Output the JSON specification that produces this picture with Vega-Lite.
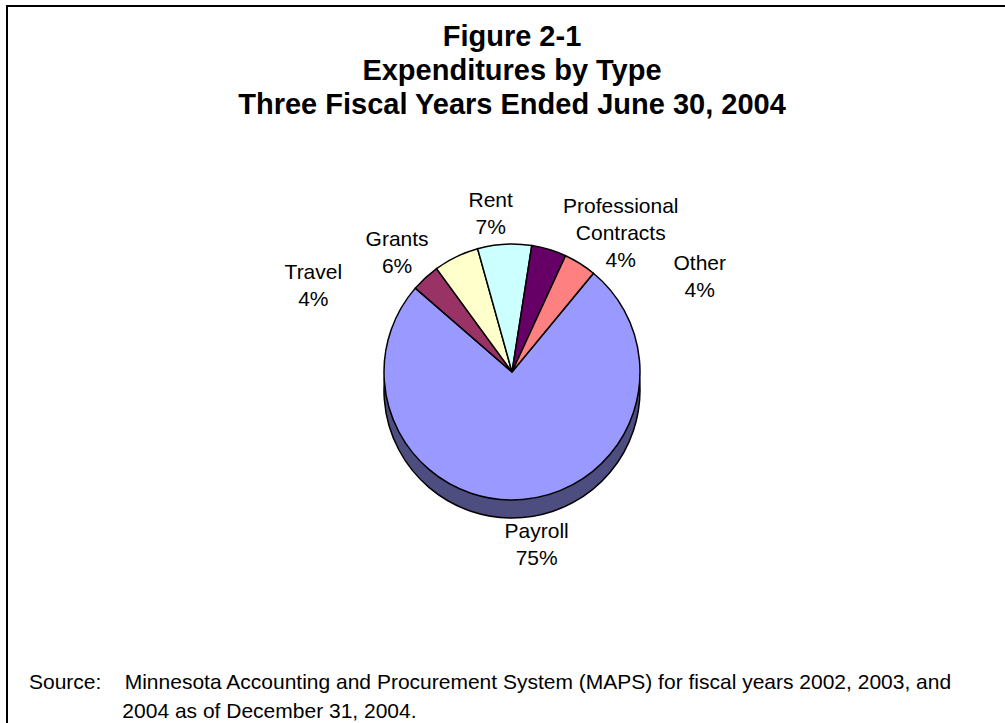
{
  "$schema": "https://vega.github.io/schema/vega-lite/v6.json",
  "background": "white",
  "padding": {"left": 6, "top": 5, "right": -13, "bottom": -16},
  "config": {
    "font": "Liberation Sans",
    "view": {"stroke": "#000000", "strokeWidth": 2},
    "title": {"color": "#000000"}
  },
  "title": {
    "text": ["Figure 2-1", "Expenditures by Type", "Three Fiscal Years Ended June 30, 2004"],
    "fontSize": 29,
    "fontWeight": "bold",
    "lineHeight": 34,
    "anchor": "middle",
    "frame": "bounds",
    "baseline": "top",
    "offset": -115,
    "color": "#000000"
  },
  "vconcat": [
    {
      "width": 1010,
      "height": 732,
      "view": {"stroke": "#000000", "strokeWidth": 2, "fill": "white"},
      "title": {
        "text": [
          "Source:\u00a0\u00a0\u00a0\u00a0Minnesota Accounting and Procurement System (MAPS) for fiscal years 2002, 2003, and",
          "\u200b\u00a0\u00a0\u00a0\u00a0\u00a0\u00a0\u00a0\u00a0\u00a0\u00a0\u00a0\u00a0\u00a0\u00a0\u00a0\u00a02004 as of December 31, 2004."
        ],
        "orient": "bottom",
        "anchor": "start",
        "frame": "group",
        "baseline": "top",
        "offset": -66,
        "dx": 22,
        "fontSize": 21,
        "fontWeight": "normal",
        "lineHeight": 29,
        "color": "#000000"
      },
      "data": {
        "values": [
          {"category": "Payroll", "value": 75.4, "ord": 1, "label": "Payroll\n75%"},
          {"category": "Travel", "value": 3.6, "ord": 2, "label": "Travel\n4%"},
          {"category": "Grants", "value": 5.7, "ord": 3, "label": "Grants\n6%"},
          {"category": "Rent", "value": 6.8, "ord": 4, "label": "Rent\n7%"},
          {"category": "Professional Contracts", "value": 4.4, "ord": 5, "label": "Professional\nContracts\n4%"},
          {"category": "Other", "value": 4.1, "ord": 6, "label": "Other\n4%"}
        ]
      },
      "encoding": {
        "theta": {"field": "value", "type": "quantitative", "stack": true, "scale": {"range": [0.6894, 6.9726]}},
        "order": {"field": "ord", "type": "quantitative"},
        "detail": {"field": "category", "type": "nominal"}
      },
      "layer": [
        {
          "mark": {"type": "arc", "outerRadius": 128, "yOffset": 18, "fill": "#4D4D80", "stroke": "#000000", "strokeWidth": 1.5}
        },
        {
          "mark": {"type": "arc", "outerRadius": 128, "stroke": "#000000", "strokeWidth": 1.5},
          "encoding": {
            "color": {
              "field": "category",
              "type": "nominal",
              "scale": {
                "domain": ["Payroll", "Travel", "Grants", "Rent", "Professional Contracts", "Other"],
                "range": ["#9999FF", "#993366", "#FFFFCC", "#CCFFFF", "#660066", "#FF8080"]
              },
              "legend": null
            }
          }
        },
        {
          "mark": {"type": "text", "radius": 165, "dx": -87, "dy": 22, "fontSize": 21, "lineHeight": 27, "lineBreak": "\n", "align": "center", "baseline": "middle", "color": "#000000"},
          "encoding": {"text": {"condition": {"test": "datum.category === 'Travel'", "field": "label", "type": "nominal"}, "value": ""}}
        },
        {
          "mark": {"type": "text", "radius": 165, "dx": -43, "dy": 17, "fontSize": 21, "lineHeight": 27, "lineBreak": "\n", "align": "center", "baseline": "middle", "color": "#000000"},
          "encoding": {"text": {"condition": {"test": "datum.category === 'Grants'", "field": "label", "type": "nominal"}, "value": ""}}
        },
        {
          "mark": {"type": "text", "radius": 160, "dx": -12, "dy": -11, "fontSize": 21, "lineHeight": 27, "lineBreak": "\n", "align": "center", "baseline": "middle", "color": "#000000"},
          "encoding": {"text": {"condition": {"test": "datum.category === 'Rent'", "field": "label", "type": "nominal"}, "value": ""}}
        },
        {
          "mark": {"type": "text", "radius": 165, "dx": 61, "dy": -7, "fontSize": 21, "lineHeight": 27, "lineBreak": "\n", "align": "center", "baseline": "middle", "color": "#000000"},
          "encoding": {"text": {"condition": {"test": "datum.category === 'Professional Contracts'", "field": "label", "type": "nominal"}, "value": ""}}
        },
        {
          "mark": {"type": "text", "radius": 165, "dx": 100, "dy": 32, "fontSize": 21, "lineHeight": 27, "lineBreak": "\n", "align": "center", "baseline": "middle", "color": "#000000"},
          "encoding": {"text": {"condition": {"test": "datum.category === 'Other'", "field": "label", "type": "nominal"}, "value": ""}}
        },
        {
          "mark": {"type": "text", "radius": 176, "dx": 10, "dy": -15, "fontSize": 21, "lineHeight": 27, "lineBreak": "\n", "align": "center", "baseline": "middle", "color": "#000000"},
          "encoding": {"text": {"condition": {"test": "datum.category === 'Payroll'", "field": "label", "type": "nominal"}, "value": ""}}
        }
      ]
    }
  ]
}
